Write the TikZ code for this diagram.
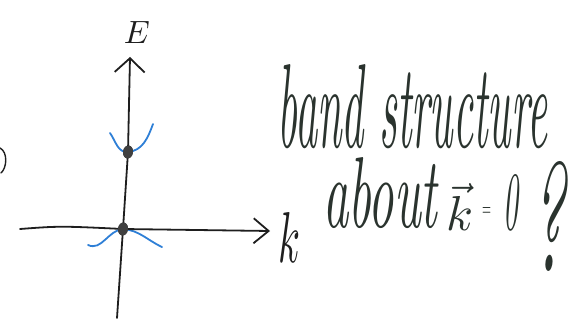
\documentclass[tikz,border=0pt]{standalone}
\usepackage{graphicx}
\usetikzlibrary{arrows.meta,shapes.geometric}
\definecolor{ink}{HTML}{1E1E1E}
\definecolor{pen}{HTML}{2A332E}
\definecolor{bluepen}{HTML}{2E7FD6}
\tikzset{
  axisline/.style={draw=ink,line width=1.8pt,line cap=round,line join=round},
  bandline/.style={draw=bluepen,line width=1.8pt,line cap=round},
  kdot/.style={ellipse,fill=ink!85,inner sep=0pt,minimum width=10pt,minimum height=13pt},
  hand/.style={text=pen,inner sep=0pt,font=\itshape},
}
\begin{document}
\begin{tikzpicture}[x=1pt,y=-1pt]
\useasboundingbox (0,0) rectangle (571,323);
% coordinates
\coordinate (vb) at (117,318);
\coordinate (vt) at (130,57);
\coordinate (hl) at (20,229);
\coordinate (ht) at (270,231);
\node[kdot,rotate=-8] (lowdot) at (123,229) {};
\node[kdot,rotate=-8] (updot) at (128,152) {};
% blue bands
\coordinate (ua) at (110,133);
\coordinate (ub) at (153,124);
\coordinate (la) at (88,245);
\coordinate (lb) at (162,247);
\draw[bandline] (ua) to[out=-55,in=185] (updot.center) to[out=5,in=-110] (ub);
\draw[bandline] (la) to[out=-25,in=185] (lowdot.center) to[out=-5,in=155] (lb);
% axes
\draw[axisline,-{Straight Barb[length=14pt,width=30pt,line width=1.8pt]}]
  (vb) -- (lowdot.center) -- (updot.center) -- (vt);
\draw[axisline,-{Straight Barb[length=15pt,width=25pt,line width=1.8pt]}]
  (hl) .. controls (60,226) .. (lowdot.center) -- (ht);
\node[kdot,rotate=-8] at (lowdot) {};
\node[kdot,rotate=-8] at (updot) {};
% labels
\node[hand,text=ink] (elab) at (137,33) {\resizebox{26pt}{22pt}{$E$}};
\node[hand,text=ink,anchor=base west] (klab) at (278,263) {\resizebox{22pt}{50pt}{$k$}};
% left-edge fragment
\draw[axisline,line width=1.4pt] (0,148) .. controls (8,152) and (7,168) .. (1,173);
% text
\node[hand,anchor=base west] (line1) at (277,148) {\resizebox{270pt}{83pt}{band structure}};
\node[hand,anchor=base west] (about) at (323,228) {\resizebox{114pt}{70pt}{about}};
\node[hand,anchor=base west] (kvec) at (446,231) {\resizebox{27pt}{48pt}{$\vec{k}$}};
\node[hand,anchor=base west] (eq) at (482,217) {\resizebox{9pt}{9pt}{$=$}};
\node[hand,anchor=base west] (zero) at (503,230) {\resizebox{15pt}{55pt}{0}};
\node[hand,anchor=base west] (qmark) at (531,272) {\resizebox{34pt}{110pt}{?}};
\end{tikzpicture}
\end{document}
